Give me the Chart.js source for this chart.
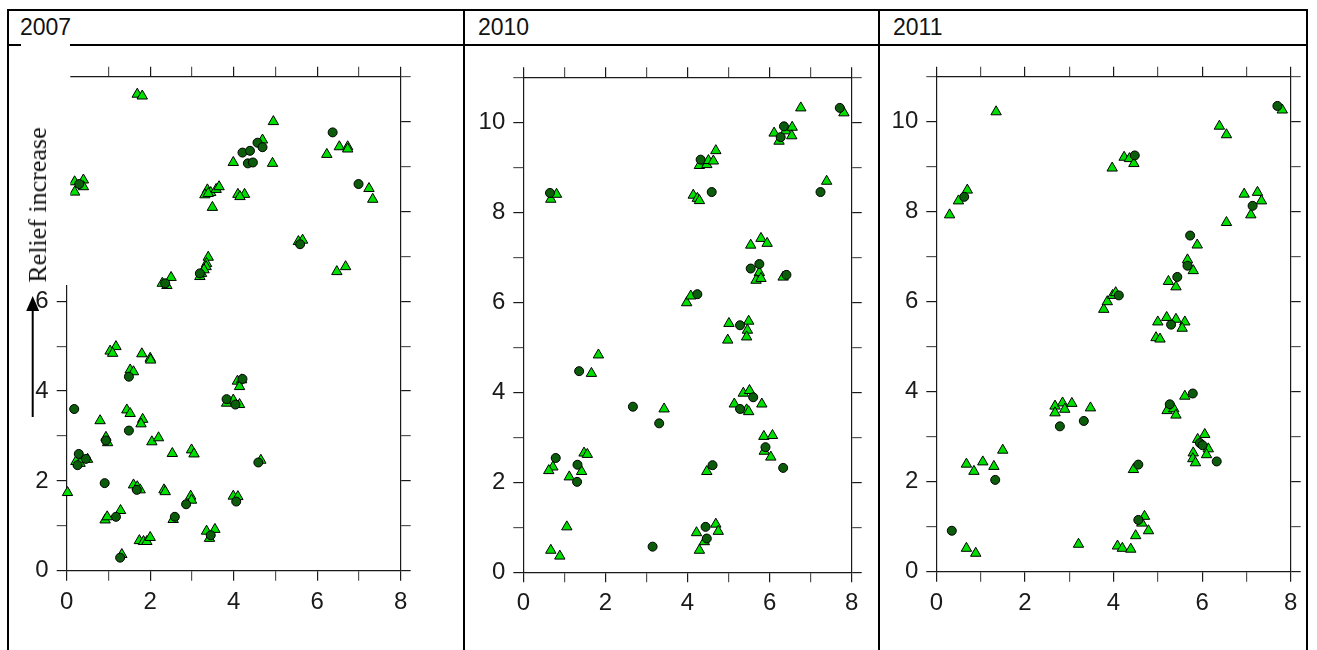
<!DOCTYPE html>
<html>
<head>
<meta charset="utf-8">
<script src="https://cdn.jsdelivr.net/npm/chart.js@4"></script>
<style>
  body { margin: 0; background: #fff; width: 1317px; height: 650px; overflow: hidden; position: relative; font-family: "Liberation Sans", Arial, sans-serif; }
  .line { position: absolute; background: #000; z-index: 3; }
  .year { position: absolute; top: 16px; font-size: 23px; line-height: 23px; color: #111; z-index: 3; }
  canvas { position: absolute; }
  #relief { position: absolute; left: 38px; top: 205px; transform: translate(-50%, -50%) rotate(-90deg); font-family: "Liberation Serif", "Times New Roman", serif; font-size: 26px; line-height: 26px; white-space: nowrap; color: #111; z-index: 4; }
</style>
</head>
<body>
<div class="line" style="left:7px;top:9px;width:1301px;height:2px"></div>
<div class="line" style="left:7px;top:9px;width:2px;height:641px"></div>
<div class="line" style="left:463px;top:9px;width:2px;height:641px"></div>
<div class="line" style="left:878px;top:9px;width:2px;height:641px"></div>
<div class="line" style="left:1306px;top:9px;width:2px;height:641px"></div>
<div class="line" style="left:7px;top:44px;width:14px;height:2px"></div>
<div class="line" style="left:70px;top:44px;width:1238px;height:2px"></div>
<div class="year" style="left:20px">2007</div>
<div class="year" style="left:478px">2010</div>
<div class="year" style="left:893px">2011</div>
<div id="relief">Relief increase</div>
<canvas id="c2007" width="454" height="604" style="left:9px;top:46px"></canvas>
<canvas id="c2010" width="413" height="604" style="left:465px;top:46px"></canvas>
<canvas id="c2011" width="426" height="604" style="left:880px;top:46px"></canvas>
<script>
const xLabels = [0, 2, 4, 6, 8];
const yLabels = [0, 2, 4, 6, 8, 10];
const xMax = 8;
const yMax = 11;

// 2007
const dots2007 = [
  [4.21, 9.31], [4.39, 9.35], [4.57, 9.53], [4.69, 9.43], [4.34, 9.07], [4.46, 9.09], [6.37, 9.76],
  [0.30, 8.61], [6.99, 8.61], [5.59, 7.27], [3.19, 6.62], [2.36, 6.40],
  [1.49, 4.32], [4.21, 4.27], [3.83, 3.82], [4.04, 3.70], [0.18, 3.60], [1.49, 3.12], [0.94, 2.90],
  [0.29, 2.60], [0.26, 2.35], [0.46, 2.49], [4.59, 2.41], [0.91, 1.95], [1.68, 1.80], [2.86, 1.48],
  [4.06, 1.54], [1.18, 1.20], [2.59, 1.20], [3.45, 0.79], [1.28, 0.29]
];
const tris2007 = [
  [1.69, 10.61], [1.81, 10.57], [4.95, 10.0], [6.53, 9.44], [6.73, 9.44], [6.73, 9.39], [6.23, 9.27],
  [4.69, 9.59], [3.99, 9.09], [4.93, 9.07], [0.19, 8.66], [0.40, 8.70], [0.40, 8.55], [0.19, 8.43],
  [7.24, 8.51], [7.33, 8.27], [3.37, 8.48], [3.45, 8.42], [3.58, 8.49], [3.65, 8.55], [3.31, 8.37],
  [3.39, 8.40], [3.49, 8.09], [4.10, 8.38], [4.26, 8.38], [4.15, 8.33], [5.55, 7.33], [5.65, 7.36],
  [6.47, 6.66], [6.68, 6.77], [3.39, 6.98], [3.35, 6.84], [3.34, 6.77], [3.19, 6.55], [3.23, 6.62],
  [3.29, 6.70], [2.29, 6.40], [2.50, 6.53], [2.40, 6.35],
  [1.18, 4.99], [1.04, 4.89], [1.10, 4.84], [1.80, 4.83], [2.00, 4.73], [2.01, 4.69], [1.52, 4.47],
  [1.60, 4.43], [4.09, 4.22], [4.19, 4.25], [4.14, 4.10], [3.83, 3.73], [3.99, 3.80], [4.14, 3.70],
  [0.80, 3.34], [1.44, 3.58], [1.52, 3.50], [1.82, 3.37], [1.78, 3.27], [0.94, 2.97], [0.98, 2.85],
  [2.04, 2.87], [2.20, 2.96], [2.53, 2.61], [2.99, 2.69], [3.05, 2.60], [0.22, 2.43], [0.32, 2.39],
  [0.50, 2.48], [4.65, 2.46], [0.02, 1.74], [1.60, 1.91], [1.69, 1.87], [1.76, 1.80], [2.33, 1.80],
  [2.36, 1.76], [2.97, 1.66], [2.99, 1.57], [3.99, 1.66], [4.10, 1.65], [1.29, 1.34], [0.92, 1.13],
  [0.97, 1.20], [2.55, 1.14], [3.35, 0.88], [3.55, 0.92], [3.42, 0.72], [1.74, 0.67], [1.84, 0.65],
  [1.92, 0.65], [2.00, 0.74], [1.32, 0.36]
];

// 2010
const dots2010 = [
  [0.65, 8.43], [7.71, 10.32], [6.27, 9.67], [6.35, 9.91], [4.32, 9.17], [4.59, 8.45], [7.24, 8.45],
  [5.54, 6.75], [5.75, 6.85], [6.41, 6.61], [4.24, 6.18], [5.28, 5.49], [1.36, 4.47], [2.67, 3.68],
  [3.31, 3.31], [5.60, 3.89], [5.28, 3.63], [5.90, 2.78], [6.33, 2.32], [0.79, 2.54], [1.32, 2.39],
  [1.31, 2.01], [4.61, 2.38], [3.15, 0.57], [4.44, 1.01], [4.47, 0.75]
];
const tris2010 = [
  [0.67, 8.29], [0.81, 8.40], [6.76, 10.32], [7.81, 10.21], [6.11, 9.76], [6.23, 9.58], [6.39, 9.81],
  [6.55, 9.89], [6.54, 9.70], [4.29, 9.04], [4.47, 9.06], [4.51, 9.15], [4.63, 9.14], [4.69, 9.37],
  [4.14, 8.38], [4.24, 8.31], [4.29, 8.26], [7.39, 8.69], [5.54, 7.27], [5.79, 7.42], [5.94, 7.31],
  [5.75, 6.66], [5.67, 6.49], [5.79, 6.53], [6.33, 6.56], [3.98, 5.99], [4.08, 6.14], [5.01, 5.53],
  [5.49, 5.58], [5.46, 5.38], [5.44, 5.23], [4.98, 5.16], [1.66, 4.42], [1.83, 4.83], [3.43, 3.63],
  [5.14, 3.74], [5.36, 3.98], [5.51, 4.04], [5.44, 3.61], [5.49, 3.57], [5.81, 3.74], [5.86, 3.02],
  [6.07, 3.04], [5.87, 2.69], [6.03, 2.56], [0.72, 2.34], [0.62, 2.26], [1.42, 2.24], [1.12, 2.12],
  [1.48, 2.65], [1.56, 2.62], [4.47, 2.24], [1.06, 1.01], [0.67, 0.49], [0.89, 0.36], [4.22, 0.88],
  [4.69, 1.07], [4.75, 0.91], [4.41, 0.68], [4.29, 0.49]
];

// 2011
const dots2011 = [
  [0.63, 8.33], [7.70, 10.35], [4.48, 9.25], [7.14, 8.13], [5.73, 7.47], [5.67, 6.80], [5.44, 6.55],
  [4.12, 6.14], [5.30, 5.49], [5.79, 3.96], [5.27, 3.72], [5.95, 2.86], [6.01, 2.81], [6.33, 2.45],
  [2.79, 3.23], [3.33, 3.35], [1.33, 2.04], [0.35, 0.91], [4.56, 2.38], [4.56, 1.15]
];
const tris2011 = [
  [0.30, 7.93], [0.50, 8.24], [0.70, 8.48], [1.35, 10.22], [7.81, 10.26], [6.39, 9.90], [6.55, 9.71],
  [3.97, 8.97], [4.24, 9.21], [4.36, 9.18], [4.46, 9.07], [6.95, 8.39], [7.25, 8.43], [7.10, 7.93],
  [7.34, 8.24], [6.55, 7.76], [5.89, 7.26], [5.67, 6.93], [5.80, 6.69], [5.24, 6.45], [5.41, 6.33],
  [3.78, 5.83], [3.86, 6.00], [3.98, 6.14], [4.05, 6.20], [5.00, 5.55], [5.20, 5.65], [5.41, 5.61],
  [5.61, 5.55], [5.55, 5.41], [4.96, 5.20], [5.05, 5.17], [5.61, 3.90], [5.21, 3.58], [5.36, 3.62],
  [5.41, 3.48], [5.90, 2.94], [6.06, 3.05], [6.14, 2.73], [5.80, 2.64], [5.79, 2.51], [5.85, 2.42],
  [6.10, 2.60], [2.68, 3.68], [2.68, 3.53], [2.85, 3.75], [2.90, 3.61], [3.06, 3.74], [3.48, 3.64],
  [0.68, 2.39], [0.85, 2.23], [1.05, 2.44], [1.30, 2.34], [1.50, 2.70], [0.68, 0.52], [0.89, 0.41],
  [3.21, 0.61], [4.45, 2.27], [4.70, 1.23], [4.64, 1.08], [4.79, 0.91], [4.50, 0.80], [4.09, 0.57],
  [4.20, 0.52], [4.39, 0.50]
];

// page coords of each plot frame: left, right, top, bottom
const panels = [
  { id: "c2007", left: 9, top: 46, plot: [66.7, 400.7, 76.7, 570.7], dots: dots2007, tris: tris2007 },
  { id: "c2010", left: 465, top: 46, plot: [523.3, 851.7, 77.3, 572.3], dots: dots2010, tris: tris2010 },
  { id: "c2011", left: 880, top: 46, plot: [936.3, 1290.7, 76.7, 571.7], dots: dots2011, tris: tris2011 }
];

function toPoints(list) {
  return list.map((p) => ({ x: p[0], y: p[1] }));
}

function makeScale(pos, max, size, labels) {
  const horizontal = pos === "top" || pos === "bottom";
  return {
    type: "linear",
    position: pos,
    min: 0,
    max: max,
    border: { display: true, color: "#1a1a1a", width: 1.2 },
    grid: {
      drawOnChartArea: false,
      drawTicks: true,
      tickLength: 10,
      lineWidth: 1.2,
      color: (c) => (c.tick && c.tick.value % 2 === 0 ? "#1a1a1a" : "#555"),
    },
    ticks: {
      display: labels != null,
      stepSize: 1,
      autoSkip: false,
      maxRotation: 0,
      minRotation: 0,
      padding: horizontal ? 7 : 8,
      color: "#1a1a1a",
      font: { family: "'Liberation Sans', Arial, sans-serif", size: 24 },
      callback: (v) => (labels && labels.includes(v) ? String(v) : ""),
    },
    afterFit: (scale) => {
      if (horizontal) scale.height = size;
      else scale.width = size;
    },
  };
}

// white box over the upper left axis of 2007, with the arrow
const reliefBox = {
  id: "reliefBox",
  afterDraw(chart) {
    const ctx = chart.ctx;
    ctx.save();
    ctx.fillStyle = "#fff";
    ctx.fillRect(12, 0, 49.3, 239);
    ctx.strokeStyle = "#000";
    ctx.lineWidth = 2;
    ctx.beginPath();
    ctx.moveTo(23.7, 371);
    ctx.lineTo(23.7, 262);
    ctx.stroke();
    ctx.fillStyle = "#000";
    ctx.beginPath();
    ctx.moveTo(23.7, 250);
    ctx.lineTo(17.2, 265);
    ctx.lineTo(30.2, 265);
    ctx.closePath();
    ctx.fill();
    ctx.restore();
  },
};

function createPanel(p, index) {
  const canvas = document.getElementById(p.id);
  const w = canvas.width;
  const h = canvas.height;
  const leftSize = p.plot[0] - p.left;
  const rightSize = p.left + w - p.plot[1];
  const topSize = p.plot[2] - p.top;
  const bottomSize = p.top + h - p.plot[3];

  new Chart(canvas, {
    type: "scatter",
    data: {
      datasets: [
        {
          label: "dots",
          data: toPoints(p.dots),
          pointStyle: "circle",
          pointRadius: 4.5,
          backgroundColor: "#0b5c0b",
          borderColor: "#000",
          borderWidth: 1,
          clip: false,
        },
        {
          label: "triangles",
          data: toPoints(p.tris),
          pointStyle: "triangle",
          pointRadius: 6,
          backgroundColor: "#00e000",
          borderColor: "#000",
          borderWidth: 1,
          clip: false,
        },
      ],
    },
    options: {
      responsive: false,
      animation: false,
      devicePixelRatio: 1,
      layout: { padding: 0 },
      plugins: { legend: { display: false }, tooltip: { enabled: false } },
      scales: {
        x: makeScale("bottom", xMax, bottomSize, xLabels),
        x2: makeScale("top", xMax, topSize, null),
        y: makeScale("left", yMax, leftSize, yLabels),
        y2: makeScale("right", yMax, rightSize, null),
      },
    },
    plugins: index === 0 ? [reliefBox] : [],
  });
}

panels.forEach(createPanel);
</script>
</body>
</html>
